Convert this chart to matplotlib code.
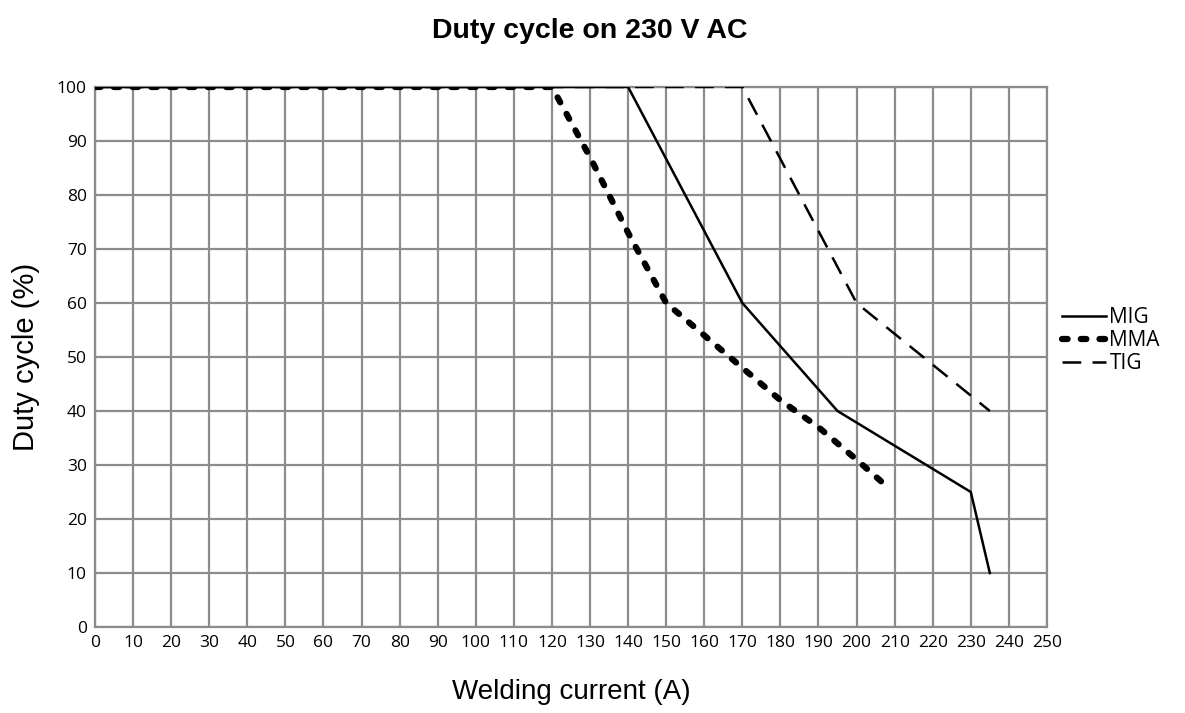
import matplotlib
matplotlib.use("Agg")
from matplotlib import pyplot as plt

# Duty cycle curves
mig_x = [0, 140, 170, 195, 230, 235]
mig_y = [100, 100, 60, 40, 25, 10]

mma_x = [0, 120, 130, 140, 150, 160, 170, 180, 190, 200, 208]
mma_y = [100, 100, 87, 73, 60, 54, 48, 42, 37, 31, 26]

tig_x = [0, 170, 200, 235]
tig_y = [100, 100, 60, 40]

xticks = list(range(0, 251, 10))
yticks = list(range(0, 101, 10))

fig = plt.figure(figsize=(11.85, 7.13), dpi=100)
ax = fig.add_axes([0.0802, 0.1206, 0.8033, 0.7574])

tick_font = "Open Sans"
lab_font = "Liberation Sans"

ax.plot(mig_x, mig_y, color="black", lw=1.8, label="MIG", zorder=3)
ax.plot(mma_x, mma_y, color="black", lw=4.5, linestyle=(0, (0.9, 2.1)),
        dash_capstyle="round", label="MMA", zorder=3)
ax.plot(tig_x, tig_y, color="black", lw=1.8, linestyle=(0, (7.5, 4.5)), label="TIG", zorder=3)

ax.set_xlim(0, 250)
ax.set_ylim(0, 100)
ax.set_xticks(xticks)
ax.set_yticks(yticks)
ax.grid(True, color="#8c8c8c", lw=1.6)
for s in ax.spines.values():
    s.set_color("#8c8c8c")
    s.set_linewidth(1.6)
ax.tick_params(length=0, pad=6, labelsize=12.5)
for t in ax.get_xticklabels() + ax.get_yticklabels():
    t.set_fontfamily(tick_font)

ax.set_xlabel("Welding current (A)", fontsize=20, fontfamily=lab_font, labelpad=20)
ax.set_ylabel("Duty cycle (%)", fontsize=21, fontfamily=lab_font, labelpad=12)
fig.suptitle("Duty cycle on 230 V AC", x=0.498, y=0.975, fontsize=20.5,
             fontweight="bold", fontfamily=lab_font)

leg = ax.legend(loc="center left", bbox_to_anchor=(1.0, 0.53), frameon=False,
                prop={"family": tick_font, "size": 15}, handlelength=2.15,
                handletextpad=0.15, labelspacing=0.1, borderaxespad=0.3)

fig.savefig("out.png", dpi=100)
